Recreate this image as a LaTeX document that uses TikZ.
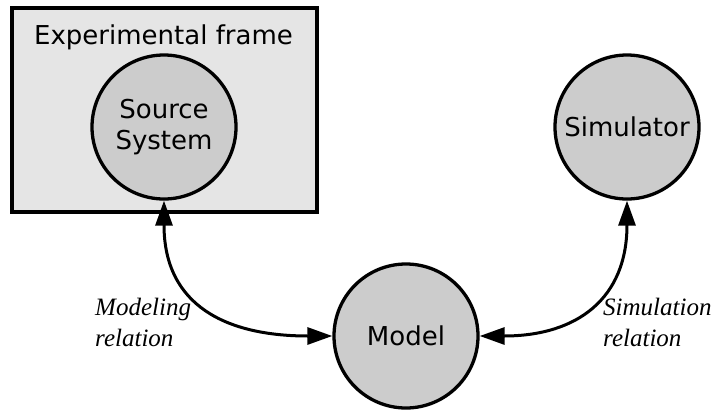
\documentclass[tikz,border=0pt]{standalone}
\usepackage{fontspec}
\setmainfont{Liberation Serif}
\setsansfont{DejaVu Sans}
\usetikzlibrary{arrows.meta}

\begin{document}
\begin{tikzpicture}[x=1pt,y=1pt,
  sys/.style={circle,draw,line width=3.3pt,fill=black!20,minimum size=144pt,
    inner sep=0pt,align=center,font=\sffamily\fontsize{26}{31.5}\selectfont},
  rel/.style={line width=3pt,>={Triangle[length=25pt,width=17pt]},<->},
  lbl/.style={font=\itshape\fontsize{25}{30.5}\selectfont,align=left,
    inner sep=0pt,anchor=base west}]
\useasboundingbox[fill=white] (0,0) rectangle (718,-410);

% experimental frame around the source system
\node[draw,line width=4pt,fill=black!10,minimum width=305pt,minimum height=204pt,
  inner sep=0pt,outer sep=0pt,anchor=north west] (frame) at (12,-8) {};
\node[font=\sffamily\fontsize{26}{30}\selectfont,anchor=base] (title)
  at (163.5,-44) {Experimental frame};

% the three entities
\node[sys] (src) at (164,-127) {Source\\System};
\node[sys] (sim) at (627,-127) {Simulator};
\node[sys] (model) at (406,-336) {Model};

% relations between them
\draw[rel] (src.south) to[out=-90,in=180,looseness=1.25] (model.west);
\draw[rel] (model.east) to[out=0,in=-90,looseness=1.25] (sim.south);

% labels; the anchor is the baseline of the second line
\node[lbl] (mlab) at (95,-346) {Modeling\\relation};
\node[lbl] (slab) at (603,-346) {Simulation\\relation};
\end{tikzpicture}
\end{document}
